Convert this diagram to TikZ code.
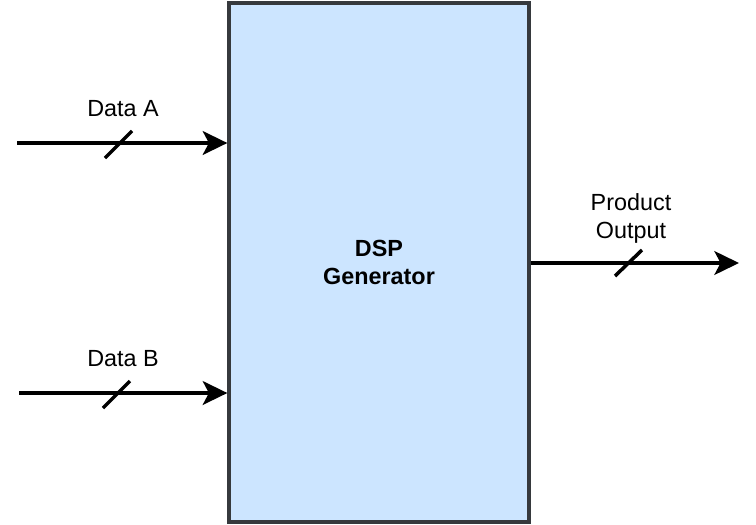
\documentclass[tikz,border=0pt]{standalone}
\usepackage{fontspec}
\setmainfont{Liberation Sans}
\usetikzlibrary{arrows.meta}
\definecolor{boxfill}{HTML}{CCE5FF}
\definecolor{boxline}{HTML}{36393D}
\tikzset{
  sig/.style={line width=2pt, -{Stealth[length=14pt,width=13.5pt,inset=3.5pt]}},
  bus/.style={line width=2pt},
  lbl/.style={font=\fontsize{13.3}{16.4}\selectfont, align=center, inner sep=0pt}
}
\begin{document}
\begin{tikzpicture}[x=0.02cm, y=-0.02cm]
        \useasboundingbox (0,0) rectangle (756,524);

        % main block
        \node[draw=boxline, fill=boxfill, line width=1.9pt, minimum width=6cm, minimum height=10.38cm,
              lbl, font=\fontsize{13.3}{16.4}\selectfont\bfseries] (dsp) at (379,262.5) {DSP\\Generator};

        % inputs and output
        \coordinate (inA) at (17,143);
        \coordinate (inB) at (19,393);
        \coordinate (outP) at (739,263);
        \draw[sig] (inA) -- (inA -| dsp.west);
        \draw[sig] (inB) -- (inB -| dsp.west);
        \draw[sig] (outP -| dsp.east) -- (outP);

        % bus slashes
        \draw[bus] (105,158) -- (132,131);
        \draw[bus] (103,408) -- (130,381);
        \draw[bus] (615,276) -- (642,250);

        % labels
        \node[lbl] (labA) at (123,109) {Data A};
        \node[lbl] (labB) at (123,359) {Data B};
        \node[lbl] (labP) at (631,218.5) {Product\\Output};
\end{tikzpicture}
\end{document}
